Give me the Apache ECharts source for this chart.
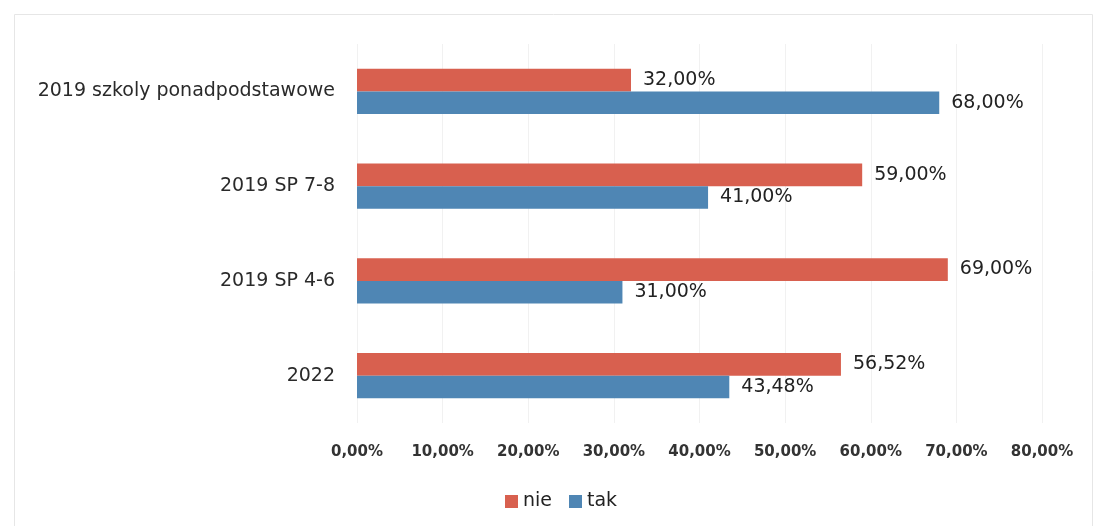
<!DOCTYPE html>
<html>
<head>
<meta charset="utf-8">
<script src="https://cdn.jsdelivr.net/npm/echarts@6/dist/echarts.min.js"></script>
<style>
  html, body { margin: 0; padding: 0; background: #fff; }
  #main { width: 1093px; height: 526px; }
</style>
</head>
<body>
<div id="main"></div>
<script>
// kategorie od dołu do góry
var categories = ['2022', '2019 SP 4-6', '2019 SP 7-8', '2019 szkoly ponadpodstawowe'];
var nieValues = [56.52, 69.00, 59.00, 32.00];
var takValues = [43.48, 31.00, 41.00, 68.00];
var seriesNames = ['nie', 'tak'];

function pct(v){
    return v.toFixed(2).replace('.', ',') + '%';
}

var myChart = echarts.init(document.getElementById('main'));

var labelStyle = {
    show: true,
    position: 'right',
    distance: 12,
    fontFamily: 'DejaVu Sans',
    fontSize: 19,
    color: '#222',
    formatter: function(p){ return pct(p.value); }
};

var option = {
    backgroundColor: '#fff',
    animation: false,
    textStyle: { fontFamily: 'DejaVu Sans' },
    graphic: [{
        type: 'rect',
        left: 12, top: 12,
        shape: { width: 1078, height: 512 },
        style: { fill: 'none', stroke: '#e6e6e6', lineWidth: 1 },
        silent: true
    }],
    legend: {
        data: seriesNames,
        top: 492,
        left: 505,
        padding: 0,
        itemWidth: 13,
        itemHeight: 13,
        itemGap: 17,
        icon: 'rect',
        textStyle: { fontSize: 19, color: '#222', fontFamily: 'DejaVu Sans' }
    },
    grid: {
        left: 357,
        right: 51,
        top: 44,
        height: 379,
        containLabel: false
    },
    xAxis: {
        type: 'value',
        min: 0,
        max: 80,
        interval: 10,
        axisLine: { show: false },
        axisTick: { show: false },
        splitLine: { show: true, lineStyle: { color: '#f1f1f1', width: 1 } },
        axisLabel: {
            margin: 22,
            fontSize: 15,
            fontWeight: 'bold',
            color: '#333',
            fontFamily: 'DejaVu Sans',
            formatter: function(v){ return pct(v); }
        }
    },
    yAxis: {
        type: 'category',
        data: categories,
        axisLine: { show: false },
        axisTick: { show: false },
        axisLabel: {
            margin: 22,
            fontSize: 19,
            color: '#2a2a2a',
            fontFamily: 'DejaVu Sans'
        }
    },
    series: [{
        name: 'nie',
        type: 'bar',
        data: nieValues,
        barGap: '0%',
        barCategoryGap: '52%',
        itemStyle: { color: '#D8604F' },
        label: labelStyle
    }, {
        name: 'tak',
        type: 'bar',
        data: takValues,
        barGap: '0%',
        barCategoryGap: '52%',
        itemStyle: { color: '#4F86B4' },
        label: labelStyle
    }]
};

myChart.setOption(option);
</script>
</body>
</html>
